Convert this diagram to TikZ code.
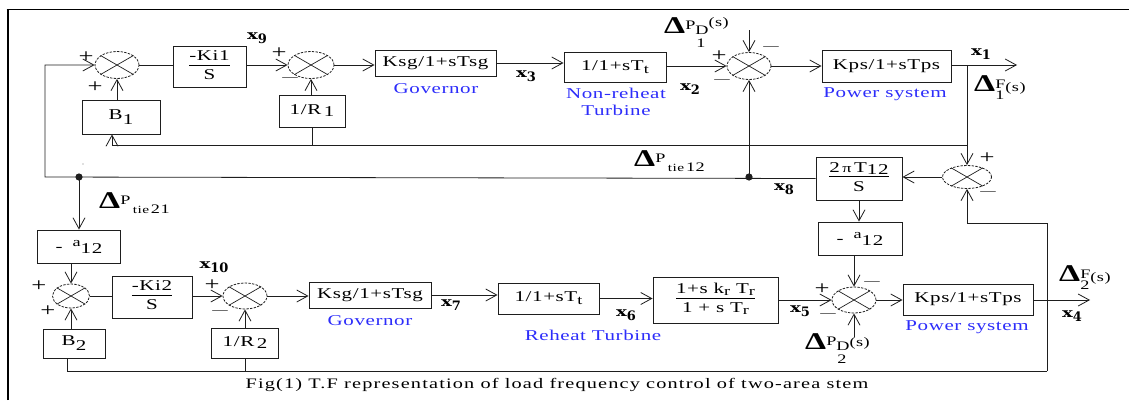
\documentclass[tikz,border=0pt]{standalone}
\usepackage{fontspec}
\usepackage{graphicx}
\setmainfont{Liberation Serif}
\newfontfamily\lf[FakeStretch=1.4,LetterSpace=4]{Liberation Serif}
\newfontfamily\cf[FakeStretch=1.4,LetterSpace=8]{Liberation Serif}
\newfontfamily\xf{DejaVu Serif}
\usetikzlibrary{arrows.meta,shapes.geometric,calc}
\setlength\arrayrulewidth{0.8pt}
\definecolor{ln}{RGB}{30,30,30}
\definecolor{lbl}{RGB}{45,45,250}
\newcommand\sm{\fontsize{13}{13}\selectfont}
\newcommand\tn{\fontsize{11}{11}\selectfont}
\newcommand\Dl{{\fontsize{24}{24}\selectfont\bfseries Δ}}
\newcommand\xl[1]{{\xf\bfseries\fontsize{13}{13}\selectfont\scalebox{1.4}[1]{x}\raisebox{-4pt}{#1}}}
\newcommand\frc[2]{\begin{tabular}{@{}c@{}}#1\\[-1pt]\hline\rule{0pt}{14pt}#2\end{tabular}}
\begin{document}
\begin{tikzpicture}[x=1pt,y=-1pt,
 every node/.style={font=\lf\fontsize{15}{16}\selectfont,inner sep=0pt},
 blk/.style={draw=ln,line width=0.9pt},
 sumn/.style={ellipse,draw=ln,line width=0.8pt,dash pattern=on 2.4pt off 1.3pt,minimum width=44pt,minimum height=27pt},
 arr/.style={-{Straight Barb[length=11pt,width=12pt,line width=0.8pt]}},
 lb/.style={text=lbl},
 sg/.style={font=\lf\fontsize{19}{19}\selectfont},
 sgm/.style={font=\lf\fontsize{11}{11}\selectfont},
 w/.style={draw=ln,line width=0.8pt}
]
\useasboundingbox (0,0) rectangle (1129,400);
% frame
\draw[line width=2.6pt] (8,400) -- (8,9.5);
\draw[line width=1.6pt] (6.7,9.5) -- (1129,9.5);

% ---------- area 1 ----------
\node[sumn] (s1) at (117,65) {};
\node[blk,minimum width=73pt,minimum height=41pt] (k1) at (209.5,67) {\frc{-Ki1}{S}};
\node[sumn,minimum width=46pt] (s2) at (311,65) {};
\node[blk,minimum width=66pt,minimum height=32pt] (r1) at (312,111) {1/R\,\raisebox{-2pt}{1}};
\node[blk,minimum width=78pt,minimum height=34pt] (b1) at (121,117) {B\raisebox{-5pt}{1}};
\node[blk,minimum width=121pt,minimum height=26pt] (g1) at (435.5,63) {Ksg/1+sTsg};
\node[blk,minimum width=102pt,minimum height=30pt] (t1) at (615,67) {1/1+sT\raisebox{-3pt}{\sm t}};
\node[sumn] (s3) at (749,66) {};
\node[blk,minimum width=129pt,minimum height=32pt] (p1) at (886.5,66) {Kps/1+sTps};
\node[sumn,minimum width=49pt,minimum height=23pt] (s4) at (967,177) {};
\node[blk,minimum width=86pt,minimum height=43pt] (x8b) at (859,178.5) {\frc{2\,{\sm π}\,T\raisebox{-2pt}{12}}{S}};

% ---------- area 2 ----------
\node[blk,minimum width=83pt,minimum height=33pt] (a12a) at (79,246.5) {-\hspace{10pt}\raisebox{5pt}{\sm a}\raisebox{-2pt}{12}};
\node[sumn,minimum width=37pt,minimum height=24pt] (s6) at (71,296) {};
\node[blk,minimum width=62pt,minimum height=29pt] (b2) at (74,343.5) {B\raisebox{-5pt}{2}};
\node[blk,minimum width=80pt,minimum height=42pt] (k2) at (152,297) {\frc{-Ki2}{S}};
\node[sumn,minimum height=26pt] (s7) at (245,296) {};
\node[blk,minimum width=67pt,minimum height=30pt] (r2) at (245,343) {1/R\,\raisebox{-2pt}{2}};
\node[blk,minimum width=122pt,minimum height=26pt] (g2) at (370,295) {Ksg/1+sTsg};
\node[blk,minimum width=101pt,minimum height=31pt] (t2) at (548.5,298.5) {1/1+sT\raisebox{-3pt}{\sm t}};
\node[blk,minimum width=125pt,minimum height=46pt] (rh) at (715.5,300) {\frc{1+s k\raisebox{-2pt}{\sm r} T\raisebox{-2pt}{\sm r}}{1 + s T\raisebox{-2pt}{\sm r}}};
\node[sumn,minimum height=26pt] (s5) at (854,300) {};
\node[blk,minimum width=130pt,minimum height=31pt] (p2) at (968,299.5) {Kps/1+sTps};
\node[blk,minimum width=84pt,minimum height=33pt] (a12b) at (860,238.5) {-\hspace{10pt}\raisebox{5pt}{\sm a}\raisebox{-2pt}{12}};

% crosses in summers
\foreach \s in {s1,s2,s3,s4,s5,s6,s7}
  \draw[ln,line width=0.7pt] (\s.30) -- (\s.210) (\s.150) -- (\s.330);

% coordinates
\coordinate (c1) at (45,177);
\coordinate (d1) at (749,177);
\coordinate (d2) at (79,177);
\coordinate (fb1) at (967,145);
\coordinate (bfb) at (112,145);
\coordinate (tp1) at (967,65);
\coordinate (out1) at (1017,65);
\coordinate (pd1) at (749,30);
\coordinate (pd2) at (854,337);
\coordinate (out2) at (1090,300);
\coordinate (t2a) at (1047,223);
\coordinate (t3) at (1047,371);
\coordinate (t4) at (67,371);

% area 1 wiring
\draw[w,arr] (x8b.west) -- (c1) |- (s1.west);
\draw[w] (s1.east) -- (s1.east -| k1.west);
\draw[w,arr] (k1.east |- s2.west) -- (s2.west);
\draw[w,arr] (s2.east) -- (s2.east -| g1.west);
\draw[w,arr] (g1.east) -- (g1.east -| t1.west);
\draw[w,arr] (t1.east |- s3.west) -- (s3.west);
\draw[w,arr] (s3.east) -- (s3.east -| p1.west);
\draw[w,arr] (p1.east |- out1) -- (out1);
\draw[w,arr] (tp1) -- (s4.north);
\draw[w,arr] (fb1) -- (bfb) -- (bfb |- b1.south);
\draw[w] (r1.south) -- (r1.south |- fb1);
\draw[w,arr] (b1.north -| s1.south) -- (s1.south);
\draw[w,arr] (r1.north -| s2.south) -- (s2.south);
\draw[w,arr] (pd1) -- (s3.north);
\draw[w,arr] (d1) -- (s3.south);
\draw[w,arr] (s4.west) -- (s4.west -| x8b.east);
\fill[ln] (d1) circle (3.6);
\fill[ln] (d2) circle (3.6);
\fill[ln!60] (83,164) circle (0.7);

% tie to area 2
\draw[w,arr] (d2) -- (a12a.north);
\draw[w,arr] (x8b.south) -- (x8b.south |- a12b.north);
\draw[w,arr] (a12b.south -| s5.north) -- (s5.north);

% area 2 wiring
\draw[w,arr] (a12a.south -| s6.north) -- (s6.north);
\draw[w,arr] (b2.north -| s6.south) -- (s6.south);
\draw[w] (s6.east) -- (s6.east -| k2.west);
\draw[w,arr] (k2.east |- s7.west) -- (s7.west);
\draw[w,arr] (r2.north -| s7.south) -- (s7.south);
\draw[w,arr] (s7.east) -- (s7.east -| g2.west);
\draw[w,arr] (g2.east) -- (g2.east -| t2.west);
\draw[w,arr] (t2.east) -- (t2.east -| rh.west);
\draw[w,arr] (rh.east |- s5.west) -- (s5.west);
\draw[w,arr] (pd2) -- (s5.south);
\draw[w,arr] (s5.east) -- (s5.east -| p2.west);
\draw[w,arr] (p2.east |- out2) -- (out2);
\draw[w,arr] (t3) -- (t2a) -| (s4.south);
\draw[w] (t3) -- (t4) -- (t4 |- b2.south);
\draw[w] (r2.south) -- (r2.south |- t3);

% signs
\node[sg] at (86,57) {+};
\node[sg] at (95,87) {+};
\node[sg] at (279,53) {+};
\node[sgm] at (290,79) {—};
\node[sg] at (719,56) {+};
\node[sgm] at (722,81) {—};
\node[sgm] at (771,48) {—};
\node[sg] at (987,158) {+};
\node[sgm] at (988,193) {—};
\node[sgm] at (872,283) {—};
\node[sg] at (822,289) {+};
\node[sgm] at (828,315) {—};
\node[sg] at (39,286) {+};
\node[sg] at (48,311) {+};
\node[sg] at (212,285) {+};
\node[sgm] at (220,312) {—};

% blue captions
\node[lb] at (436,89) {Governor};
\node[lb] at (616,93) {Non-reheat};
\node[lb] at (616,110) {Turbine};
\node[lb] at (885,94) {Power system};
\node[lb] at (370,321) {Governor};
\node[lb] at (593,335) {Reheat Turbine};
\node[lb] at (967,327) {Power system};

% state labels
\node (lx9) at (257,38) {\xl{9}};
\node (lx3) at (526,76) {\xl{3}};
\node (lx2) at (690,89) {\xl{2}};
\node (lx1) at (981,54) {\xl{1}};
\node (lx8) at (784,189) {\xl{8}};
\node (lx10) at (214,267) {\xl{10}};
\node (lx7) at (451,305) {\xl{7}};
\node (lx6) at (626,315) {\xl{6}};
\node (lx5) at (800,311) {\xl{5}};
\node (lx4) at (1072,316) {\xl{4}};

% delta labels
\node[anchor=west] (lpd1) at (664,32) {\Dl\sm\raisebox{4pt}{P}\raisebox{-1pt}{D}\llap{\raisebox{-14pt}{1\hspace{3pt}}}\raisebox{7pt}{(s)}};
\node[anchor=west] (lf1) at (974,88) {\Dl\sm\raisebox{3pt}{F}\llap{\raisebox{-8pt}{1\hspace{1pt}}}(s)};
\node[anchor=west] (lt12) at (634,161) {\Dl\raisebox{4pt}{\sm P}\,\raisebox{-5pt}{\tn tie\,\sm 12}};
\node[anchor=west] (lt21) at (99,203) {\Dl\raisebox{4pt}{\sm P}\,\raisebox{-5pt}{\tn tie\,\sm 21}};
\node[anchor=west] (lpd2) at (805,349) {\Dl\sm\raisebox{4pt}{P}\raisebox{-1pt}{D}\llap{\raisebox{-14pt}{2\hspace{3pt}}}\raisebox{3pt}{(s)}};
\node[anchor=west] (lf2) at (1059,278) {\Dl\sm\raisebox{3pt}{F}\llap{\raisebox{-8pt}{2\hspace{1pt}}}(s)};

% caption
\node[font=\cf\fontsize{14.5}{16}\selectfont] (cap) at (557,385) {Fig(1) T.F representation of load frequency control of two-area stem};
\end{tikzpicture}
\end{document}
